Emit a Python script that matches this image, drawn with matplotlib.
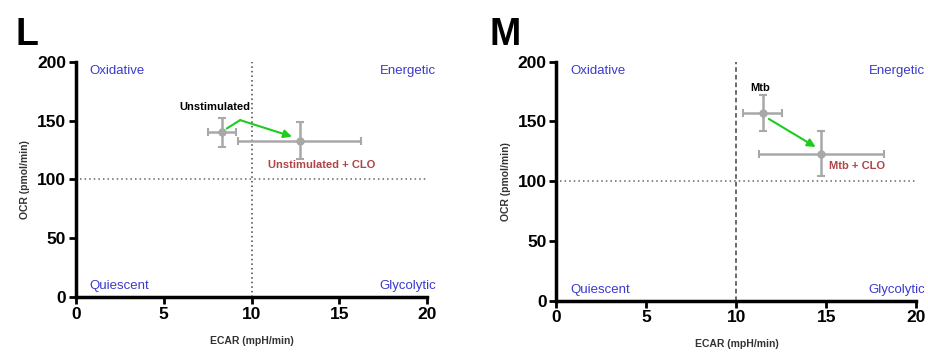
import matplotlib
matplotlib.use('Agg')
import matplotlib.pyplot as plt

plt.rcParams['font.family'] = ['Liberation Sans', 'DejaVu Sans']

# Panel L: unstimulated
l_x = [8.3, 12.75]
l_y = [140, 133]
l_xerr = [0.8, 3.5]
l_yerr = [12, 15.5]
l_labels = ['Unstimulated', 'Unstimulated + CLO']
l_arrow = [(8.6, 143.5), (9.35, 150.5), (12.3, 136.5)]

# Panel M: Mtb
m_x = [11.45, 14.72]
m_y = [157, 123]
m_xerr = [1.07, 3.45]
m_yerr = [14.7, 18.8]
m_labels = ['Mtb', 'Mtb + CLO']
m_arrow = [(11.8, 152), (14.4, 128.5)]

quadrants = ['Oxidative', 'Energetic', 'Quiescent', 'Glycolytic']

BLUE = '#3a3acc'
RED = '#b04448'
GREY = '#a8a8a8'
GREEN = '#1ecc1e'


def setup_axes(ax, vline_style):
    ax.set_xlim(0, 20)
    ax.set_ylim(0, 200)
    ax.set_xticks([0, 5, 10, 15, 20])
    ax.set_yticks([0, 50, 100, 150, 200])
    for s in ['top', 'right']:
        ax.spines[s].set_visible(False)
    for s in ['left', 'bottom']:
        ax.spines[s].set_linewidth(2.5)
    ax.tick_params(width=2, length=5, labelsize=12.5, pad=2)
    for lab in ax.get_xticklabels() + ax.get_yticklabels():
        lab.set_fontweight('bold')
    ax.set_xlabel('ECAR (mpH/min)', fontsize=7.5, fontweight='bold', color='#333333', labelpad=10)
    ax.set_ylabel('OCR (pmol/min)', fontsize=7.5, fontweight='bold', color='#333333', labelpad=5)
    ax.axvline(10, color='#444444', lw=1.1, linestyle=vline_style, zorder=1)
    ax.plot([0.2, 20], [100, 100], color='#666666', lw=1.1, linestyle=(0, (1, 2)), zorder=1)
    ax.text(0.75, 192, quadrants[0], color=BLUE, fontsize=9.5, va='center')
    ax.text(20.5, 192, quadrants[1], color=BLUE, fontsize=9.5, va='center', ha='right')
    ax.text(0.75, 9, quadrants[2], color=BLUE, fontsize=9.5, va='center')
    ax.text(20.5, 9, quadrants[3], color=BLUE, fontsize=9.5, va='center', ha='right')


fig = plt.figure(figsize=(9.29, 3.54), dpi=100)
ax1 = fig.add_axes([0.0818, 0.161, 0.378, 0.664])
ax2 = fig.add_axes([0.599, 0.151, 0.3875, 0.675])

setup_axes(ax1, (0, (1, 2)))
setup_axes(ax2, (0, (3, 2)))

for ax, x, y, xe, ye in [(ax1, l_x, l_y, l_xerr, l_yerr), (ax2, m_x, m_y, m_xerr, m_yerr)]:
    ax.errorbar(x, y, xerr=xe, yerr=ye, fmt='o', color=GREY, ms=5, elinewidth=1.8,
                capsize=3, capthick=1.5, zorder=3)

# Panel L labels and arrow
ax1.text(7.9, 162, l_labels[0], fontsize=8, fontweight='bold', ha='center', va='center')
ax1.text(14.0, 112, l_labels[1], fontsize=8, fontweight='bold', color=RED, ha='center', va='center')
ax1.plot([l_arrow[0][0], l_arrow[1][0]], [l_arrow[0][1], l_arrow[1][1]], color=GREEN, lw=1.5, zorder=4)
ax1.annotate('', xy=l_arrow[2], xytext=l_arrow[1],
             arrowprops=dict(arrowstyle='-|>', color=GREEN, lw=1.5, mutation_scale=12,
                             shrinkA=0, shrinkB=0), zorder=4)

# Panel M labels and arrow
ax2.text(11.3, 178, m_labels[0], fontsize=8, fontweight='bold', ha='center', va='center')
ax2.text(16.7, 113, m_labels[1], fontsize=8, fontweight='bold', color=RED, ha='center', va='center')
ax2.annotate('', xy=m_arrow[1], xytext=m_arrow[0],
             arrowprops=dict(arrowstyle='-|>', color=GREEN, lw=1.5, mutation_scale=12,
                             shrinkA=0, shrinkB=0), zorder=4)

fig.text(0.017, 0.9, 'L', fontsize=27, fontweight='bold', va='center')
fig.text(0.527, 0.9, 'M', fontsize=27, fontweight='bold', va='center')

fig.savefig('out.png', dpi=100)
